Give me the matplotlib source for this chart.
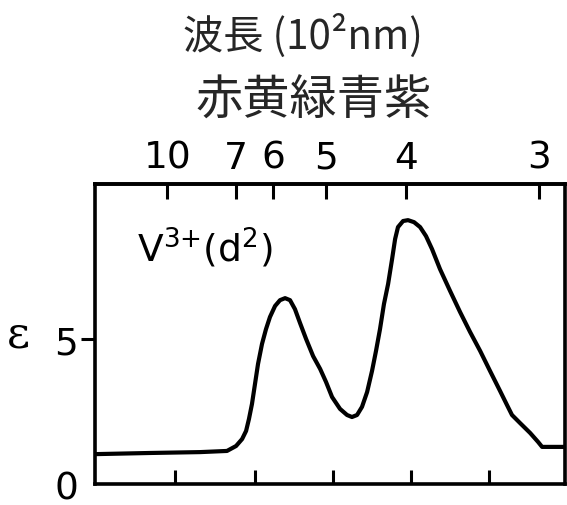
import matplotlib
matplotlib.use('Agg')

import matplotlib.pyplot as plt
import numpy as np

# wavenumber (10^3 cm^-1) and molar absorptivity
wavenumber = [5.46, 8.92, 12.06, 13.75, 14.32, 14.70, 14.95, 15.13, 15.32, 15.51,
              15.70, 15.95, 16.20, 16.45, 16.77, 17.08, 17.40, 17.71, 18.02, 18.34,
              18.72, 19.16, 19.60, 19.97, 20.35, 20.85, 21.29, 21.60, 21.92, 22.23,
              22.55, 22.86, 23.11, 23.36, 23.61, 23.87, 24.12, 24.31, 24.49, 24.81,
              25.12, 25.50, 25.88, 26.25, 26.63, 27.13, 27.76, 28.39, 29.02, 29.65,
              30.27, 30.90, 31.34, 31.65, 32.16, 32.79, 33.29, 33.54, 34.35, 34.98]
epsilon = [1.03, 1.07, 1.10, 1.14, 1.31, 1.55, 1.83, 2.24, 2.76, 3.45,
           4.14, 4.83, 5.34, 5.76, 6.14, 6.34, 6.41, 6.34, 6.03, 5.55,
           5.00, 4.41, 3.97, 3.52, 3.00, 2.59, 2.38, 2.31, 2.38, 2.66,
           3.17, 3.90, 4.59, 5.34, 6.21, 6.90, 7.76, 8.45, 8.86, 9.07,
           9.10, 9.03, 8.86, 8.55, 8.10, 7.41, 6.66, 5.93, 5.24, 4.59,
           3.90, 3.21, 2.72, 2.38, 2.10, 1.76, 1.45, 1.28, 1.28, 1.28]

wavelength_ticks = [10, 7, 6, 5, 4, 3]      # 10^2 nm, top axis
bottom_ticks = [10.5, 15.5, 20.4, 25.3, 30.2]
y_ticks = [0, 5]

fig = plt.figure(figsize=(5.67, 5.06), dpi=100)
ax = fig.add_axes([0.1675, 0.0415, 0.829, 0.5925])

ax.plot(wavenumber, epsilon, color='black', lw=3, solid_joinstyle='round',
        solid_capstyle='round')
ax.set_xlim(5.46, 34.98)
ax.set_ylim(0, 10.34)

for s in ax.spines.values():
    s.set_linewidth(2.6)

ax.set_xticks(bottom_ticks)
ax.set_xticklabels([])
ax.tick_params(axis='x', direction='in', length=10, width=2.2)

ax.set_yticks(y_ticks)
ax.set_yticklabels([str(v) for v in y_ticks], fontsize=27)
ax.tick_params(axis='y', direction='out', length=10, width=2.2, pad=2)
ax.yaxis.get_major_ticks()[0].tick1line.set_visible(False)

def k2w(x):
    x = np.asarray(x, dtype=float)
    with np.errstate(divide='ignore'):
        return 100.0 / x

top = ax.secondary_xaxis('top', functions=(k2w, k2w))
top.set_xticks(wavelength_ticks)
top.set_xticklabels([str(v) for v in wavelength_ticks], fontsize=27)
top.tick_params(direction='in', length=11, width=2.2, pad=6)
top.spines['top'].set_linewidth(2.6)

ax.set_ylabel('ε', rotation=0, fontsize=32, family='DejaVu Serif', labelpad=26, va='center')

ax.text(0.09, 0.745, r'V$^{3{+}}$(d$^{2}$)', transform=ax.transAxes, fontsize=27)

jp = ['Noto Sans CJK JP', 'DejaVu Sans']
fig.text(0.535, 0.93, '波長 (10²nm)', ha='center', va='center', fontsize=29,
         family=jp, color='#262626')
fig.text(0.553, 0.80, '赤黄緑青紫', ha='center', va='center', fontsize=34,
         family=jp, color='#262626')

plt.savefig('out.png', dpi=100)
